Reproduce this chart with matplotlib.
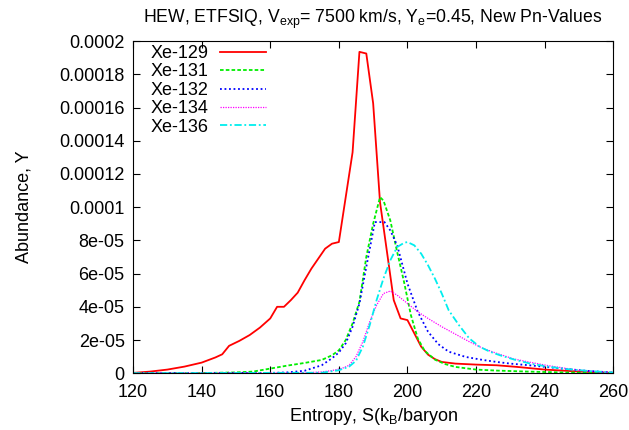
import matplotlib
matplotlib.use('Agg')
import matplotlib.pyplot as plt
from matplotlib.ticker import FixedLocator, FixedFormatter

plt.rcParams.update({'font.family': ['Liberation Sans', 'DejaVu Sans']})
plt.rcParams.update({'font.size': 13})
plt.rcParams.update({'mathtext.default': 'regular'})

# Xe-129
x129 = [120, 125, 130, 135, 140, 144, 146, 148, 151, 154, 157, 160, 162, 164, 166, 168, 170, 172,
        174, 176, 178, 180, 184, 186, 188, 190, 192, 196, 198, 200, 202, 204, 206, 208, 210, 214,
        220, 226, 232, 240, 250, 260]
y129 = [0.2e-6, 1.0e-6, 2.2e-6, 4.0e-6, 6.4e-6, 9.5e-6, 1.14e-5, 1.65e-5, 1.95e-5, 2.3e-5, 2.75e-5,
        3.3e-5, 4.0e-5, 4.0e-5, 4.4e-5, 4.85e-5, 5.6e-5, 6.3e-5, 6.9e-5, 7.5e-5, 7.8e-5, 7.9e-5,
        1.33e-4, 1.935e-4, 1.925e-4, 1.625e-4, 1.03e-4, 4.4e-5, 3.3e-5, 3.2e-5, 2.4e-5, 1.6e-5,
        1.12e-5, 8.5e-6, 6.8e-6, 5.8e-6, 5.2e-6, 4.8e-6, 3.8e-6, 2.2e-6, 1.0e-6, 0.2e-6]

# Xe-131
x131 = [120, 140, 150, 155, 160, 165, 170, 175, 178, 180, 182, 184, 186, 188, 190, 192, 193, 195,
        197, 199, 201, 203, 205, 208, 211, 214, 220, 226, 235, 245, 260]
y131 = [0, 0.1e-6, 0.5e-6, 1.0e-6, 2.8e-6, 4.6e-6, 6.2e-6, 8.0e-6, 1.08e-5, 1.38e-5, 2.0e-5,
        3.0e-5, 4.3e-5, 7.0e-5, 9.0e-5, 1.06e-4, 1.04e-4, 9.2e-5, 7.3e-5, 5.5e-5, 3.5e-5, 2.1e-5,
        1.35e-5, 8.2e-6, 5.5e-6, 3.8e-6, 2.2e-6, 1.6e-6, 1.0e-6, 0.5e-6, 0.1e-6]

# Xe-132
x132 = [120, 160, 165, 170, 175, 178, 180, 182, 184, 186, 188, 190.5, 193.3, 195, 197, 200, 203,
        206, 209, 212, 217, 222, 226, 230, 236, 245, 252, 260]
y132 = [0, 0.2e-6, 0.5e-6, 1.5e-6, 4.8e-6, 9.0e-6, 1.25e-5, 1.8e-5, 2.8e-5, 4.2e-5, 6.4e-5,
        9.1e-5, 9.1e-5, 8.6e-5, 7.7e-5, 5.4e-5, 3.7e-5, 2.5e-5, 1.75e-5, 1.3e-5, 9.8e-6, 8.0e-6,
        6.8e-6, 5.8e-6, 4.7e-6, 2.8e-6, 1.5e-6, 0.4e-6]

# Xe-134
x134 = [120, 170, 175, 178, 181, 183, 185, 187, 189, 191, 193, 195, 197, 200, 203, 206, 210, 214,
        218, 222, 226, 231, 236, 241, 246, 250, 255, 260]
y134 = [0, 0.2e-6, 0.8e-6, 1.6e-6, 3.0e-6, 4.8e-6, 1.0e-5, 1.9e-5, 3.1e-5, 4.1e-5, 4.8e-5,
        4.95e-5, 4.7e-5, 4.2e-5, 3.7e-5, 3.3e-5, 2.8e-5, 2.35e-5, 1.9e-5, 1.5e-5, 1.2e-5, 8.6e-6,
        6.5e-6, 4.6e-6, 3.0e-6, 1.8e-6, 1.0e-6, 0.3e-6]

# Xe-136
x136 = [120, 175, 180, 183, 185, 187, 189, 191, 193, 195, 197, 199, 200, 202, 204, 206, 208, 210,
        212, 215, 218, 221, 224, 227, 231, 236, 241, 246, 252, 260]
y136 = [0, 0.3e-6, 1.8e-6, 4.0e-6, 7.5e-6, 1.6e-5, 2.9e-5, 4.4e-5, 5.7e-5, 6.8e-5, 7.6e-5,
        7.85e-5, 7.9e-5, 7.7e-5, 7.2e-5, 6.5e-5, 5.7e-5, 4.8e-5, 3.8e-5, 2.9e-5, 2.1e-5, 1.6e-5,
        1.3e-5, 1.08e-5, 8.3e-6, 5.7e-6, 4.0e-6, 2.6e-6, 1.5e-6, 0.4e-6]

ytick_vals = [0, 2e-5, 4e-5, 6e-5, 8e-5, 1e-4, 1.2e-4, 1.4e-4, 1.6e-4, 1.8e-4, 2e-4]
ytick_labels = ['0', '2e-05', '4e-05', '6e-05', '8e-05', '0.0001', '0.00012', '0.00014',
                '0.00016', '0.00018', '0.0002']
xtick_vals = [120, 140, 160, 180, 200, 220, 240, 260]

fig = plt.figure(figsize=(6.29, 4.30), dpi=100)
ax = fig.add_axes([0.2115, 0.132, 0.7635, 0.7725])

ax.plot(x129, y129, color='#ff0000', lw=1.3, label='Xe-129')
ax.plot(x131, y131, color='#00ee00', lw=1.3, ls=(0, (2, 1.2)), label='Xe-131')
ax.plot(x132, y132, color='#0000ff', lw=1.3, ls=(0, (1, 1.5)), label='Xe-132')
ax.plot(x134, y134, color='#ff00ff', lw=0.9, ls=(0, (1, 1)), label='Xe-134')
ax.plot(x136, y136, color='#00eeee', lw=1.3, ls=(0, (4, 1.5, 1, 1.5)), label='Xe-136')

ax.set_xlim(120, 260)
ax.set_ylim(0, 2e-4)
ax.xaxis.set_major_locator(FixedLocator(xtick_vals))
ax.yaxis.set_major_locator(FixedLocator(ytick_vals))
ax.yaxis.set_major_formatter(FixedFormatter(ytick_labels))
ax.tick_params(direction='in', top=True, right=True, length=5, width=0.8, labelsize=13)
ax.tick_params(axis='x', pad=8)
ax.tick_params(axis='y', pad=6)
for s in ax.spines.values():
    s.set_linewidth(0.8)

ax.set_xlabel('Entropy, S(k$_B$/baryon', labelpad=3)
ax.set_ylabel('Abundance, Y', labelpad=19)
ax.set_title('HEW, ETFSIQ, V$_{exp}$= 7500 km/s, Y$_e$=0.45, New Pn-Values', fontsize=12.7, pad=13)

ax.legend(loc='upper left', frameon=False, markerfirst=False, handlelength=2.55,
          handletextpad=0.6, labelspacing=0.08, borderaxespad=0.0,
          bbox_to_anchor=(0.022, 1.01), fontsize=13)

fig.savefig('out.png', dpi=100)
